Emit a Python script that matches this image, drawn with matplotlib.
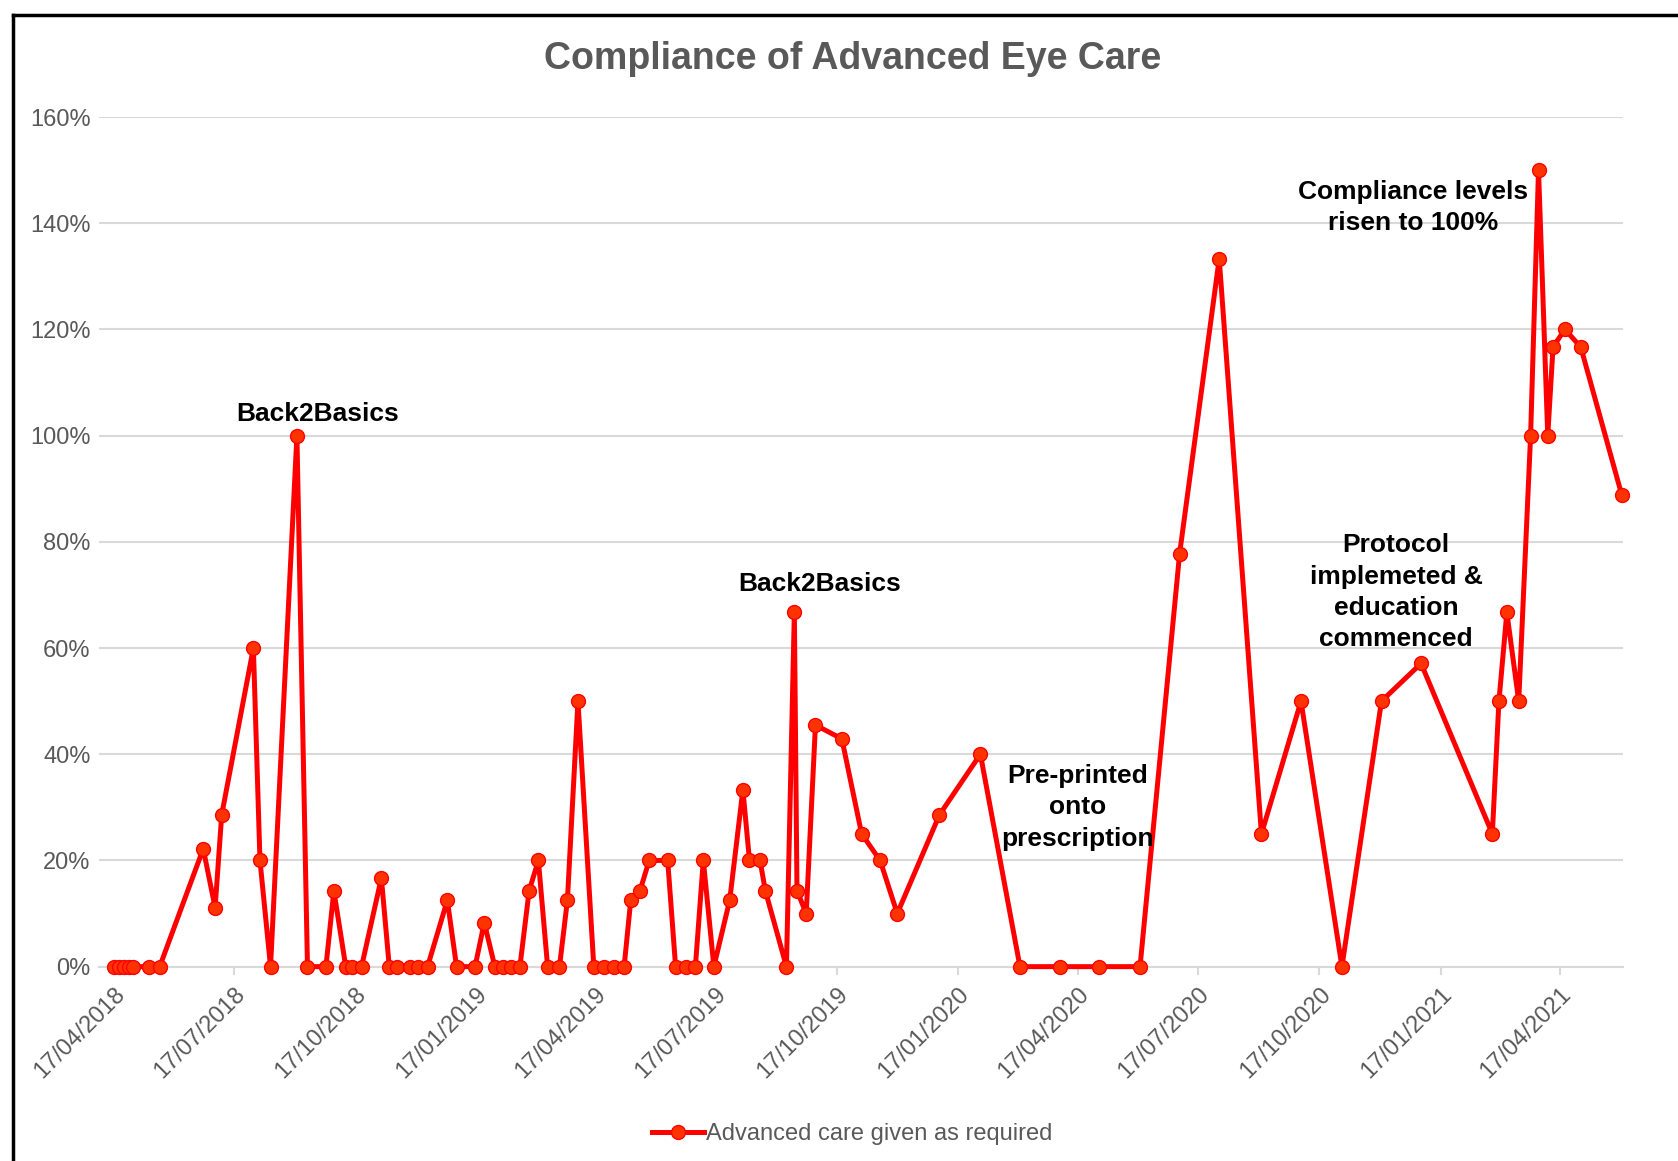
import numpy as np
import pandas as pd
import matplotlib
matplotlib.use('Agg')
import matplotlib.pyplot as plt
import matplotlib.dates as mdates
from matplotlib.lines import Line2D

plt.rcParams['font.family'] = ['Liberation Sans', 'DejaVu Sans']

# audit dates and compliance (fraction of patients given advanced care)
dates = ['2018-04-17', '2018-04-21', '2018-04-25', '2018-04-29', '2018-05-02',
         '2018-05-14', '2018-05-22', '2018-06-24', '2018-07-03', '2018-07-08',
         '2018-08-01', '2018-08-06', '2018-08-14', '2018-09-03', '2018-09-11',
         '2018-09-25', '2018-10-01', '2018-10-10', '2018-10-15', '2018-10-22',
         '2018-11-06', '2018-11-12', '2018-11-18', '2018-11-28', '2018-12-04',
         '2018-12-11', '2018-12-26', '2019-01-02', '2019-01-16', '2019-01-23',
         '2019-01-31', '2019-02-06', '2019-02-12', '2019-02-19', '2019-02-26',
         '2019-03-05', '2019-03-12', '2019-03-21', '2019-03-27', '2019-04-04',
         '2019-04-16', '2019-04-24', '2019-05-01', '2019-05-09', '2019-05-14',
         '2019-05-21', '2019-05-28', '2019-06-11', '2019-06-17', '2019-06-25',
         '2019-07-02', '2019-07-08', '2019-07-16', '2019-07-28', '2019-08-07',
         '2019-08-12', '2019-08-20', '2019-08-24', '2019-09-09', '2019-09-15',
         '2019-09-17', '2019-09-24', '2019-10-01', '2019-10-21', '2019-11-05',
         '2019-11-19', '2019-12-02', '2020-01-03', '2020-02-03', '2020-03-04',
         '2020-04-03', '2020-05-03', '2020-06-03', '2020-07-03', '2020-08-02',
         '2020-09-03', '2020-10-03', '2020-11-03', '2020-12-03', '2021-01-02',
         '2021-02-25', '2021-03-02', '2021-03-08', '2021-03-17', '2021-03-26',
         '2021-04-01', '2021-04-08', '2021-04-12', '2021-04-21', '2021-05-03',
         '2021-06-03']
compliance = [0, 0, 0, 0, 0,
              0, 0, 0.222, 0.111, 0.286,
              0.60, 0.20, 0, 1.00, 0,
              0, 0.143, 0, 0, 0,
              0.167, 0, 0, 0, 0,
              0, 0.125, 0, 0, 0.083,
              0, 0, 0, 0, 0.143,
              0.20, 0, 0, 0.125, 0.50,
              0, 0, 0, 0, 0.125,
              0.143, 0.20, 0.20, 0, 0,
              0, 0.20, 0, 0.125, 0.333,
              0.20, 0.20, 0.143, 0, 0.667,
              0.143, 0.10, 0.455, 0.429, 0.25,
              0.20, 0.10, 0.286, 0.40, 0,
              0, 0, 0, 0.778, 1.333,
              0.25, 0.50, 0, 0.50, 0.571,
              0.25, 0.50, 0.667, 0.50, 1.00,
              1.50, 1.00, 1.167, 1.20, 1.167,
              0.889]

tick_dates = ['2018-04-17', '2018-07-17', '2018-10-17', '2019-01-17', '2019-04-17',
              '2019-07-17', '2019-10-17', '2020-01-17', '2020-04-17', '2020-07-17',
              '2020-10-17', '2021-01-17', '2021-04-17']

notes = ['Back2Basics', 'Back2Basics', 'Pre-printed\nonto\nprescription',
         'Protocol\nimplemeted &\neducation\ncommenced',
         'Compliance levels\nrisen to 100%']
note_dates = ['2018-09-19', '2019-10-04', '2020-04-17', '2020-12-14', '2020-12-27']
note_y = [1.04, 0.72, 0.30, 0.705, 1.43]

x = pd.to_datetime(dates)
grey = '#595959'

fig = plt.figure(figsize=(16.78, 11.61), dpi=100)
ax = fig.add_axes([0.059, 0.1674, 0.9082, 0.7318])

ax.plot(x, compliance, color='#FF0000', lw=3.6, marker='o', ms=10,
        mfc='#FF3300', mec='#FF0000', mew=1.0, clip_on=False, zorder=3,
        label='Advanced care given as required')

ax.set_ylim(0, 1.6)
ax.set_yticks(np.arange(0, 1.61, 0.2))
ax.set_yticklabels(['%d%%' % round(v * 100) for v in np.arange(0, 1.61, 0.2)])
ax.set_xlim(pd.Timestamp('2018-04-06'), pd.Timestamp('2021-06-04'))
ax.set_xticks(pd.to_datetime(tick_dates))
ax.xaxis.set_major_formatter(mdates.DateFormatter('%d/%m/%Y'))

ax.grid(axis='y', color='#D9D9D9', lw=1.5)
ax.set_axisbelow(True)
for s in ['top', 'right', 'left']:
    ax.spines[s].set_visible(False)
ax.spines['bottom'].set_color('#D9D9D9')
ax.spines['bottom'].set_linewidth(1.5)
ax.tick_params(axis='y', length=0, pad=6, labelsize=17, labelcolor=grey)
ax.tick_params(axis='x', length=6, width=1.5, color='#D9D9D9', pad=6,
               labelsize=17, labelcolor=grey)
for lbl in ax.get_xticklabels():
    lbl.set_rotation(45)
    lbl.set_ha('right')
    lbl.set_rotation_mode('anchor')

fig.text(0.508, 0.949, 'Compliance of Advanced Eye Care', ha='center', va='center',
         fontsize=27, fontweight='bold', color=grey)

for t, d, yv in zip(notes, note_dates, note_y):
    ax.text(pd.Timestamp(d), yv, t, ha='center', va='center', fontsize=19,
            fontweight='bold', color='black', linespacing=1.38)

fig.legend(loc='center', bbox_to_anchor=(0.508, 0.023), frameon=False,
           fontsize=17, labelcolor=grey, handlelength=2.2, handletextpad=0.1)

# frame around the chart (cropped on the right and bottom)
fig.add_artist(Line2D([0.0078, 0.0078], [0.0, 0.987], color='black', lw=2.5))
fig.add_artist(Line2D([0.0078, 1.0], [0.987, 0.987], color='black', lw=2.5))

fig.savefig('out.png', dpi=100)
